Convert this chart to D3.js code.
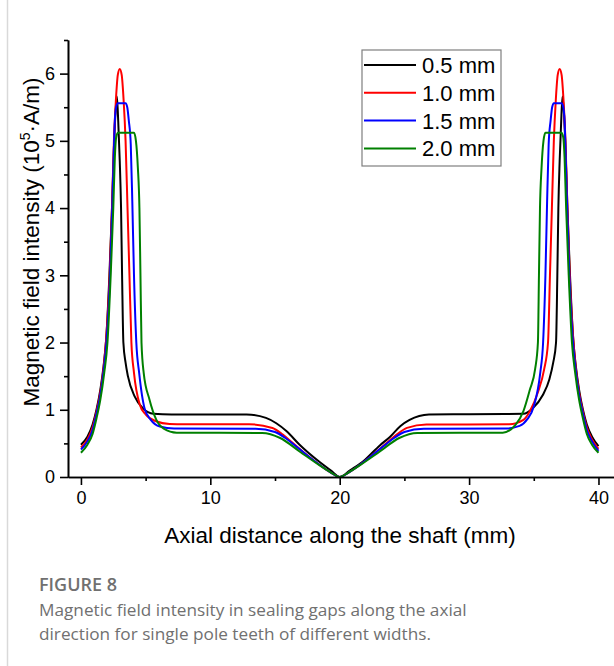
<!DOCTYPE html>
<html>
<head>
<meta charset="utf-8">
<script src="https://cdn.jsdelivr.net/npm/d3@7"></script>
<style>
  body { margin: 0; background: #fff; }
  svg { display: block; }
  .caption { font-family: "Open Sans", "Noto Sans", sans-serif; fill: #707070; }
</style>
</head>
<body>
<div id="chart"></div>
<script>
// Series labels and colours
const seriesLabels = ["0.5 mm", "1.0 mm", "1.5 mm", "2.0 mm"];
const seriesColors = ["#000000", "#ff0000", "#0000ff", "#008000"];

// Field intensity (10^5 A/m) against axial distance (mm)
const width05 = [
  [0,0.48],[0.5,0.6],[0.9,0.78],[1.2,1.0],[1.5,1.3],[1.75,1.65],[1.95,2.05],[2.2,3.0],[2.4,4.0],[2.55,4.9],[2.68,5.45],[2.78,5.66],
  [2.88,5.3],[3.0,4.7],[3.1,4.0],[3.18,3.0],[3.28,2.0],[3.45,1.7],[3.63,1.5],[4.15,1.2],[4.8,1.02],[5.6,0.94],[7,0.93],[10,0.93],
  [12.8,0.93],[14.3,0.88],[15.1,0.8],[15.9,0.68],[16.9,0.48],[18.4,0.23],[19.3,0.1],[20,0],
  [20.8,0.1],[21.8,0.23],[23.1,0.47],[23.9,0.6],[24.7,0.76],[25.4,0.85],[26.9,0.93],[30,0.935],[34.2,0.94],[34.9,1.02],[35.7,1.22],
  [36.2,1.45],[36.5,1.7],[36.72,2.0],[36.82,3.0],[36.9,4.0],[37.0,4.7],[37.12,5.3],[37.22,5.66],[37.32,5.45],[37.45,4.9],[37.6,4.0],
  [37.8,3.0],[38.05,2.05],[38.25,1.65],[38.5,1.3],[38.8,1.0],[39.1,0.78],[39.5,0.6],[40,0.46]
];
const width10 = [
  [0,0.44],[0.5,0.56],[0.9,0.74],[1.2,0.97],[1.5,1.26],[1.75,1.62],[1.95,2.05],[2.22,3.0],[2.4,4.0],[2.55,5.0],[2.7,5.6],[2.85,5.98],
  [3.0,6.07],[3.15,5.98],[3.3,5.6],[3.45,5.0],[3.6,4.0],[3.75,3.0],[3.9,2.0],[4.1,1.55],[4.54,1.08],[5.0,0.93],[5.8,0.83],[6.85,0.79],
  [8,0.785],[13,0.785],[14.8,0.73],[15.6,0.63],[16.4,0.5],[17.9,0.26],[19.2,0.08],[20,0],
  [20.8,0.08],[22.1,0.26],[23.6,0.5],[24.4,0.63],[25.2,0.73],[26.7,0.78],[33.1,0.785],[34.2,0.85],[34.7,0.98],[35.3,1.25],[35.8,1.6],
  [36.1,2.0],[36.25,3.0],[36.4,4.0],[36.55,5.0],[36.7,5.6],[36.85,5.98],[37.0,6.07],[37.15,5.98],[37.3,5.6],[37.45,5.0],[37.6,4.0],
  [37.78,3.0],[38.05,2.05],[38.25,1.62],[38.5,1.26],[38.8,0.97],[39.1,0.74],[39.5,0.56],[40,0.42]
];
const width15 = [
  [0,0.41],[0.5,0.53],[0.9,0.7],[1.2,0.94],[1.5,1.22],[1.75,1.57],[1.97,2.0],[2.25,3.0],[2.42,4.0],[2.55,4.9],[2.62,5.3],[2.72,5.5],
  [2.85,5.56],[3.45,5.56],[3.58,5.5],[3.7,5.3],[3.85,4.95],[3.97,4.1],[4.1,3.0],[4.28,2.0],[4.5,1.55],[4.92,1.02],[5.4,0.85],[6.1,0.75],
  [7.2,0.72],[13.5,0.717],[15,0.67],[15.8,0.58],[16.6,0.46],[18.1,0.23],[19.2,0.08],[20,0],
  [20.8,0.08],[21.9,0.23],[23.4,0.46],[24.2,0.58],[25,0.67],[26.5,0.717],[32.8,0.72],[33.9,0.76],[34.5,0.86],[35.0,1.05],[35.5,1.55],
  [35.72,2.0],[35.9,3.0],[36.03,4.1],[36.15,4.95],[36.3,5.3],[36.42,5.5],[36.55,5.56],[37.15,5.56],[37.28,5.5],[37.38,5.3],[37.45,4.9],
  [37.58,4.0],[37.75,3.0],[38.03,2.0],[38.25,1.57],[38.5,1.22],[38.8,0.94],[39.1,0.7],[39.5,0.53],[40,0.39]
];
const width20 = [
  [0,0.36],[0.5,0.48],[0.9,0.64],[1.2,0.87],[1.5,1.15],[1.8,1.55],[2.05,2.0],[2.3,3.0],[2.5,4.0],[2.62,4.75],[2.72,5.05],[2.86,5.12],
  [4.1,5.12],[4.25,5.0],[4.4,4.6],[4.52,4.0],[4.6,3.0],[4.68,2.0],[4.85,1.55],[5.3,1.15],[5.83,0.85],[6.4,0.72],[7.4,0.66],[14,0.655],
  [15.4,0.58],[16.9,0.38],[18.4,0.18],[19.3,0.07],[20,0],
  [20.7,0.07],[21.6,0.18],[23.1,0.38],[24.6,0.58],[26,0.655],[32.6,0.66],[33.6,0.78],[34.2,0.98],[34.7,1.3],[35.1,1.6],[35.32,2.0],
  [35.4,3.0],[35.48,4.0],[35.6,4.6],[35.75,5.0],[35.9,5.12],[37.14,5.12],[37.28,5.05],[37.38,4.75],[37.5,4.0],[37.7,3.0],[37.95,2.0],
  [38.2,1.55],[38.5,1.15],[38.8,0.87],[39.1,0.64],[39.5,0.48],[40,0.36]
];
const seriesData = [width05, width10, width15, width20];

// Axis ticks
const xTicks = [0, 10, 20, 30, 40];
const xMinorTicks = [5, 15, 25, 35];
const yTicks = [0, 1, 2, 3, 4, 5, 6];
const yMinorTicks = [0.5, 1.5, 2.5, 3.5, 4.5, 5.5, 6.5];

const captionTitle = "FIGURE 8";
const captionLines = [
  "Magnetic field intensity in sealing gaps along the axial",
  "direction for single pole teeth of different widths."
];

// Dimensions
const width = 614;
const height = 666;
const plot = { left: 68, right: 614, top: 40, bottom: 477 };
const font = "'Liberation Sans', Arial, sans-serif";

const svg = d3
  .select("#chart")
  .append("svg")
  .attr("width", width)
  .attr("height", height);

svg.append("rect").attr("width", width).attr("height", height).attr("fill", "#fff");

// light page rule on the left
svg.append("line")
  .attr("x1", 7.5).attr("x2", 7.5)
  .attr("y1", 0).attr("y2", height)
  .attr("stroke", "#d9d9d9").attr("stroke-width", 1.5);

const xScale = d3.scaleLinear().domain([-1, 41.2]).range([plot.left, plot.right]);
const yScale = d3.scaleLinear().domain([0, 6.5]).range([plot.bottom, plot.top]);

// Curves
const line = d3
  .line()
  .x((d) => xScale(d[0]))
  .y((d) => yScale(d[1]))
  .curve(d3.curveMonotoneX);

svg.append("g")
  .selectAll("path")
  .data(seriesData)
  .join("path")
  .attr("d", line)
  .attr("fill", "none")
  .attr("stroke", (d, i) => seriesColors[i])
  .attr("stroke-width", 2)
  .attr("stroke-linejoin", "round");

// Axes
function styleAxis(g) {
  g.select(".domain").attr("stroke", "#000").attr("stroke-width", 1.6);
  g.selectAll(".tick line").attr("stroke", "#000").attr("stroke-width", 1.6);
  g.selectAll(".tick text")
    .attr("font-family", font)
    .attr("font-size", 18)
    .attr("fill", "#000");
}

svg.append("g")
  .attr("transform", `translate(0,${plot.bottom})`)
  .call(d3.axisBottom(xScale).tickValues(xMinorTicks).tickFormat("").tickSize(4).tickSizeOuter(0))
  .call(styleAxis);

svg.append("g")
  .attr("transform", `translate(0,${plot.bottom})`)
  .call(d3.axisBottom(xScale).tickValues(xTicks).tickFormat(d3.format("d")).tickSize(8).tickSizeOuter(0).tickPadding(6))
  .call(styleAxis);

svg.append("g")
  .attr("transform", `translate(${plot.left},0)`)
  .call(d3.axisLeft(yScale).tickValues(yMinorTicks).tickFormat("").tickSize(4).tickSizeOuter(0))
  .call(styleAxis);

svg.append("g")
  .attr("transform", `translate(${plot.left},0)`)
  .call(d3.axisLeft(yScale).tickValues(yTicks).tickFormat(d3.format("d")).tickSize(8).tickSizeOuter(0).tickPadding(5))
  .call(styleAxis);

// Axis titles
svg.append("text")
  .attr("x", 340)
  .attr("y", 543)
  .attr("text-anchor", "middle")
  .attr("font-family", font)
  .attr("font-size", 22.5)
  .attr("fill", "#000")
  .text("Axial distance along the shaft (mm)");

const yTitle = svg.append("text")
  .attr("transform", "translate(39,242) rotate(-90)")
  .attr("text-anchor", "middle")
  .attr("font-family", font)
  .attr("font-size", 22.5)
  .attr("fill", "#000");
yTitle.append("tspan").text("Magnetic field intensity (10");
yTitle.append("tspan").attr("font-size", 14).attr("dy", -9).text("5");
yTitle.append("tspan").attr("dy", 9).text("·A/m)");

// Legend
const legend = svg.append("g").attr("transform", "translate(362,50)");
legend.append("rect")
  .attr("width", 139)
  .attr("height", 116)
  .attr("fill", "#fff")
  .attr("stroke", "#7f7f7f")
  .attr("stroke-width", 1.2);

const items = legend
  .selectAll("g.item")
  .data(seriesLabels)
  .join("g")
  .attr("class", "item")
  .attr("transform", (d, i) => `translate(0,${15 + i * 27.8})`);

items.append("line")
  .attr("x1", 2).attr("x2", 54)
  .attr("stroke", (d, i) => seriesColors[i])
  .attr("stroke-width", 2);

items.append("text")
  .attr("x", 60)
  .attr("y", 8)
  .attr("font-family", font)
  .attr("font-size", 22)
  .attr("fill", "#000")
  .text((d) => d);

// Caption
svg.append("text")
  .attr("class", "caption")
  .attr("x", 39)
  .attr("y", 591)
  .attr("font-size", 18)
  .attr("font-weight", 600)
  .text(captionTitle);

svg.append("g")
  .selectAll("text")
  .data(captionLines)
  .join("text")
  .attr("class", "caption")
  .attr("x", 39)
  .attr("y", (d, i) => 616 + i * 24)
  .attr("font-size", 17.2)
  .text((d) => d);
</script>
</body>
</html>
